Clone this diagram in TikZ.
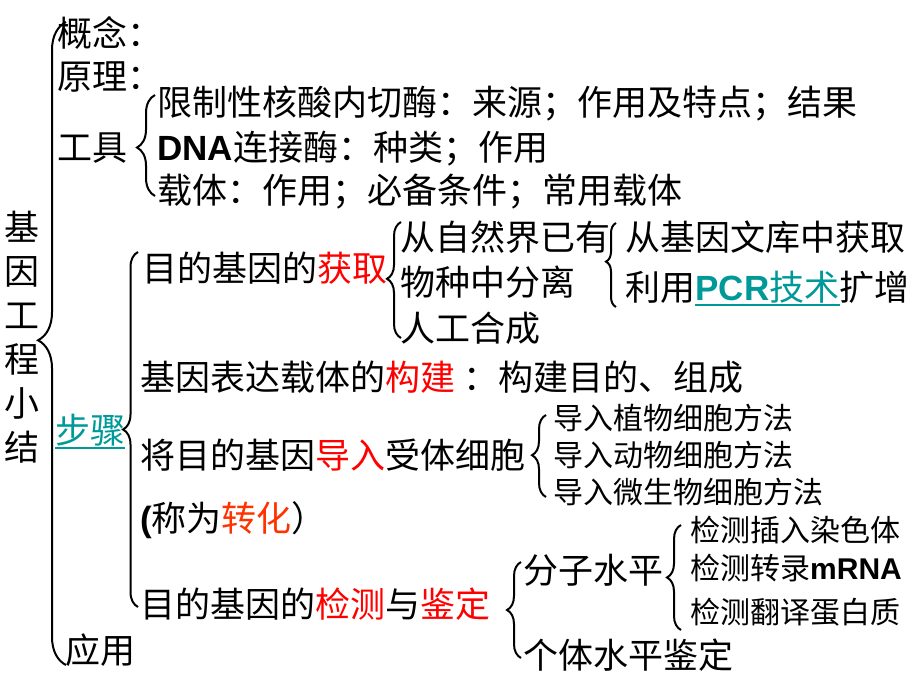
\documentclass[tikz,border=0pt]{standalone}
\usepackage{fontspec}
\setmainfont{Noto Sans CJK SC}
\newfontfamily\arialfam{Liberation Sans}
\usetikzlibrary{decorations.pathreplacing}
\definecolor{tealc}{RGB}{0,153,153}
\definecolor{redc}{RGB}{255,0,0}
\definecolor{orc}{RGB}{255,51,0}
\newcommand{\hlred}[1]{\textcolor{redc}{#1}}
\newcommand{\latb}[1]{{\arialfam\bfseries #1}}
\begin{document}
\begin{tikzpicture}[x=1pt,y=-1pt,
  txt/.style={anchor=west, inner sep=0pt, font=\fontsize{35}{40}\selectfont, text height=30.8pt, text depth=4.2pt},
  sml/.style={anchor=west, inner sep=0pt, font=\fontsize{30}{34}\selectfont, text height=26.4pt, text depth=3.6pt},
  br/.style 2 args={decorate, decoration={brace, amplitude=#1, aspect=#2}, line width=2pt},
  uline/.style={tealc, line width=1.6pt}
]
\useasboundingbox[fill=white] (0,0) rectangle (920,690);

% title
\node[align=center, inner sep=0pt, font=\fontsize{35}{44}\selectfont] (title) at (22,337) {基\\因\\工\\程\\小\\结};

% main brace
\draw[br={28pt}{0.505}] (66,665) -- (66,22);

\node[txt] (gn) at (57,33) {概念：};
\node[txt] (yl) at (57,76) {原理：};
\node[txt] (gj) at (57,147) {工具};
\draw[br={18pt}{0.48}] (155,196) -- (155,95);
\node[txt] (xz) at (157,102) {限制性核酸内切酶：来源；作用及特点；结果};
\node[txt] (dna) at (157,147) {\latb{DNA}连接酶：种类；作用};
\node[txt] (zt) at (157,190) {载体：作用；必备条件；常用载体};

\node[txt, text=tealc] (bz) at (55,430) {步骤};
\draw[uline] (bz.south west) -- (bz.south east);
\node[txt] (yy) at (65,650) {应用};

% steps brace
\draw[br={15pt}{0.5}] (138,607) -- (138,252);

\node[txt] (hq) at (142,268) {目的基因的\hlred{获取}};
\draw[br={14pt}{0.51}] (401,338) -- (401,222);
\node[txt] (zr1) at (400,237) {从自然界已有};
\node[txt] (zr2) at (400,282) {物种中分离};
\node[txt] (rg) at (400,328) {人工合成};
\draw[br={10pt}{0.54}] (616,307) -- (616,223);
\node[txt] (wk) at (625,237) {从基因文库中获取};
\node[txt] (ly) at (625,287) {利用};
\node[txt, text=tealc] (pcr) at (ly.east) {\latb{PCR}技术};
\draw[uline] (pcr.south west) -- (pcr.south east);
\node[txt] (kz) at (pcr.east) {扩增};

\node[txt] (gz) at (140,377) {基因表达载体的\hlred{构建}\ ：构建目的、组成};

\node[txt] (dr) at (140,455) {将目的基因\hlred{导入}受体细胞};
\draw[br={14pt}{0.51}] (546,497) -- (546,415);
\node[sml] (d1) at (553,418) {导入植物细胞方法};
\node[sml] (d2) at (553,455) {导入动物细胞方法};
\node[sml] (d3) at (553,492) {导入微生物细胞方法};
\node[txt] (zh) at (140,518) {\latb{(}称为\textcolor{orc}{转化}）};

\node[txt] (jc) at (140,604) {目的基因的\hlred{检测}与\hlred{鉴定}};
\draw[br={14pt}{0.5}] (521,658) -- (521,562);
\node[txt] (fz) at (523,570) {分子水平};
\node[txt] (gt) at (523,655) {个体水平鉴定};
\draw[br={14pt}{0.5}] (681,630) -- (681,525);
\node[sml] (j1) at (690,530) {检测插入染色体};
\node[sml] (j2) at (690,568) {检测转录\latb{mRNA}};
\node[sml] (j3) at (690,612) {检测翻译蛋白质};
\end{tikzpicture}
\end{document}
